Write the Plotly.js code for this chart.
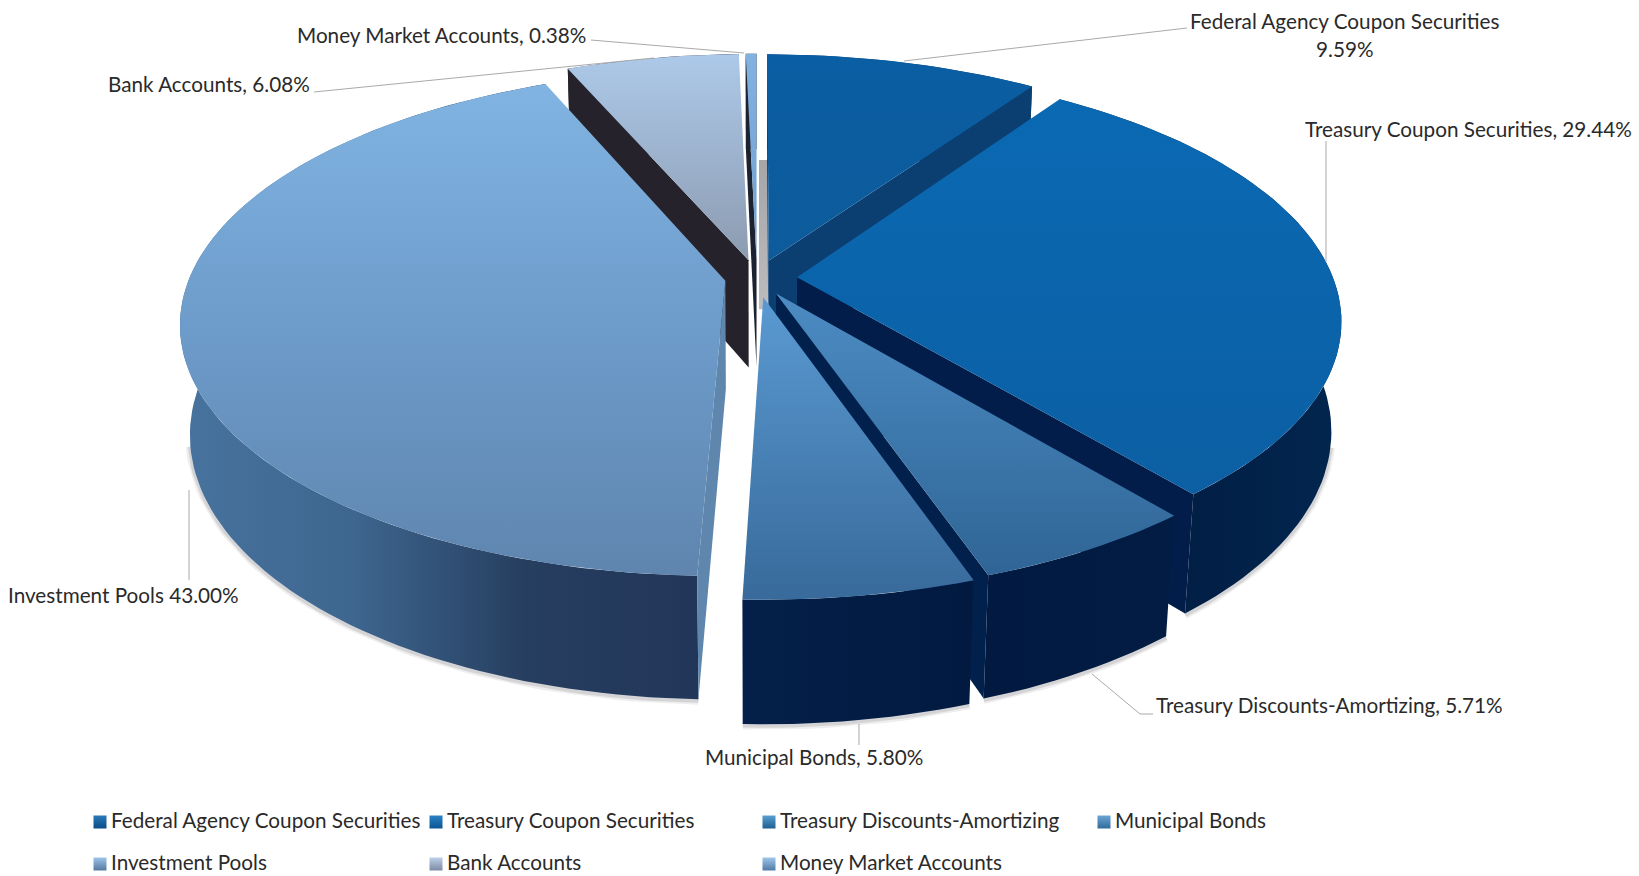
<!DOCTYPE html>
<html>
<head>
<meta charset="utf-8">
<script src="https://cdn.plot.ly/plotly-3.0.1.min.js"></script>
<style>html,body{margin:0;padding:0;background:#fff}#chart{width:1639px;height:876px}</style>
</head>
<body>
<div id="chart"></div>
<script>
// Portfolio composition, clockwise from twelve o'clock
const categories = ['Federal Agency Coupon Securities', 'Treasury Coupon Securities', 'Treasury Discounts-Amortizing',
  'Municipal Bonds', 'Investment Pools', 'Bank Accounts', 'Money Market Accounts'];
const shares = [9.59, 29.44, 5.71, 5.80, 43.00, 6.08, 0.38];

// Callout wording per slice
const calloutLines = [
  ['Federal Agency Coupon Securities', '9.59%'],
  ['Treasury Coupon Securities, 29.44%'],
  ['Treasury Discounts-Amortizing, 5.71%'],
  ['Municipal Bonds, 5.80%'],
  ['Investment Pools 43.00%'],
  ['Bank Accounts, 6.08%'],
  ['Money Market Accounts, 0.38%']
];

// Top-face shading, top of slice to bottom of slice
const faceColors = [
  ['#0a5ea3', '#0d5b9b'], ['#0a69b3', '#0c5fa3'], ['#4c8cc3', '#2f6596'], ['#5a9ad2', '#386a9b'],
  ['#81b4e2', '#6d9bca', '#5f85ae'], ['#adc9e9', '#8c9bb0'], ['#82b2e0', '#6f9fcf']
];
// Rim wall shading, left to right
const rimColors = [
  ['#0b4479', '#0b3f72'], ['#01183c', '#02264f'], ['#021a40', '#021c44'], ['#041f49', '#021a40'],
  ['#47739e', '#3e668f', '#263e5f', '#22365a'], ['#2a2a36', '#2a2a36'], ['#2a2a36', '#2a2a36']
];
// Colour of the straight cut walls
const cutColors = ['#0b3f72', '#021d49', '#02204c', '#04224e', '#5f86ad', '#25222c', '#1d2230'];
const swatchColors = [
  ['#2a7ab8', '#0a4c86'], ['#2a82c4', '#0a5494'], ['#5a9fd2', '#1f5e90'], ['#6aa5d6', '#2f6a9b'],
  ['#9cc4e8', '#55799f'], ['#bdd0e8', '#7b8ba3'], ['#a0c6ea', '#4f7aa6']
];

// Back-to-front painting sequence
const paintOrder = [6, 5, 0, 4, 1, 2, 3];
// How far each slice is pulled out from the centre
const pulls = [0.075, 0.075, 0.072, 0.078, 0.06, 0.075, 0.075];

// Perspective camera for the tilted disc
const cam = {cx: 757, cy: 278, a: 245.6, b: 536, h: 110, p: 0.165, q: 0.017};
function project(X, Y, z) {
  const d = 1 + cam.p * Y + cam.q * z;
  return [cam.cx + cam.b * X / d, cam.cy + (-cam.a * Y + cam.h * z) / d];
}

const rad = d => d * Math.PI / 180;
const traces = [];
function poly(points, colors, orient, name) {
  // The y axis runs downward, so vertical gradients are listed bottom-first
  const list = orient === 'vertical' ? colors.slice().reverse() : colors;
  const n = list.length;
  const scale = list.map((c, i) => [i / (n - 1), c]);
  traces.push({
    type: 'scatter', mode: 'lines', name,
    x: points.map(p => p[0]).concat(points[0][0]),
    y: points.map(p => p[1]).concat(points[0][1]),
    fill: 'toself', line: {width: 0}, hoverinfo: 'skip', showlegend: false,
    fillcolor: colors[0],
    fillgradient: {type: orient, colorscale: scale}
  });
}

// Slice geometry comes straight from the shares
let running = 0;
const slices = shares.map((s, i) => {
  const t1 = running * 3.6; running += s; const t2 = running * 3.6;
  const mid = rad((t1 + t2) / 2);
  return {i, t1, t2, ox: pulls[i] * Math.sin(mid), oy: pulls[i] * Math.cos(mid)};
});
function arc(sl, z) {
  const pts = [], steps = Math.max(2, Math.ceil((sl.t2 - sl.t1) / 1.5));
  for (let k = 0; k <= steps; k++) {
    const t = rad(sl.t1 + (sl.t2 - sl.t1) * k / steps);
    pts.push(project(sl.ox + Math.sin(t), sl.oy + Math.cos(t), z));
  }
  return pts;
}
function cutVisible(sl, theta, sign) {
  const n = rad(theta + sign * 90);
  return Math.sin(n) * (0 - sl.ox) + Math.cos(n) * (-1 / cam.p - sl.oy) > 0;
}
function cutWall(sl, theta, sign) {
  if (!cutVisible(sl, theta, sign)) return;
  const t = rad(theta);
  const rimX = sl.ox + Math.sin(t), rimY = sl.oy + Math.cos(t);
  poly([project(sl.ox, sl.oy, 0), project(rimX, rimY, 0), project(rimX, rimY, 1), project(sl.ox, sl.oy, 1)],
    [cutColors[sl.i], cutColors[sl.i]], 'vertical', categories[sl.i] + ' cut');
}

// Soft contact shadow under the front rim
[[9, 'rgba(90,90,100,0.10)'], [5, 'rgba(80,80,90,0.16)']].forEach(([w, col]) => {
  [slices[1], slices[2], slices[3], slices[4]].forEach(sl => {
    const pts = arc(sl, 1).filter(p => p[1] > 440);
    traces.push({type: 'scatter', mode: 'lines', x: pts.map(p => p[0]), y: pts.map(p => p[1] + 1),
      line: {width: w, color: col}, hoverinfo: 'skip', showlegend: false});
  });
});

// Grey sliver visible through the gap beside the first slice
const gapEdge = project(slices[0].ox, slices[0].oy + 0.45, 0)[0];
const gapTop = project(slices[0].ox, slices[0].oy + 0.45, 0)[1];
const gapFoot = project(slices[0].ox, slices[0].oy, 0.45)[1];
poly([[gapEdge - 9, gapTop], [gapEdge, gapTop], [gapEdge, gapFoot], [gapEdge - 9, gapFoot]],
  ['#a6a6a8', '#bcbcbe'], 'vertical', 'gap');

paintOrder.forEach(i => {
  const sl = slices[i];
  const top = arc(sl, 0), bot = arc(sl, 1);
  poly(top.concat(bot.slice().reverse()), rimColors[i], 'horizontal', categories[i] + ' rim');
  cutWall(sl, sl.t1, -1);
  cutWall(sl, sl.t2, 1);
  poly([project(sl.ox, sl.oy, 0)].concat(top), faceColors[i], 'vertical', categories[i]);
});

// Leader lines from the callouts to the disc
const leaders = [
  [[1187, 28], [904, 61]],
  [[1326, 141], [1326, 262]],
  [[1092, 674], [1140, 714], [1153, 714]],
  [[859, 724], [859, 745]],
  [[189, 490], [189, 580]],
  [[314, 92], [654, 58]],
  [[591, 40], [744, 53]]
];
leaders.forEach(pts => traces.push({type: 'scatter', mode: 'lines',
  x: pts.map(p => p[0]), y: pts.map(p => p[1]),
  line: {width: 1, color: '#a9a9a9'}, hoverinfo: 'skip', showlegend: false}));

// Legend grid
const legendCols = [100, 436, 769, 1104];
const legendRows = [822, 864];
const legendCells = [[0, 0], [1, 0], [2, 0], [3, 0], [0, 1], [1, 1], [2, 1]];
const legendFont = {family: 'Lato, Carlito, sans-serif', size: 20.7, color: '#2a2a2a'};
const annotations = [];
categories.forEach((c, i) => {
  const [col, row] = legendCells[i];
  traces.push({type: 'scatter', mode: 'markers', x: [legendCols[col]], y: [legendRows[row]], name: c,
    marker: {symbol: 'square', size: 13, color: swatchColors[i][0],
      gradient: {type: 'vertical', color: swatchColors[i][1]}},
    hoverinfo: 'name', showlegend: false});
  annotations.push({x: legendCols[col] + 9, y: legendRows[row] - 2, text: c, xanchor: 'left', yanchor: 'middle',
    showarrow: false, font: legendFont, xref: 'x', yref: 'y'});
});

// Callouts, one row per text line
const calloutSpots = [
  {x: 1344, y: 21, a: 'center'}, {x: 1303, y: 129, a: 'left'}, {x: 1154, y: 705, a: 'left'},
  {x: 703, y: 757, a: 'left'}, {x: 6, y: 595, a: 'left'}, {x: 106, y: 84, a: 'left'}, {x: 295, y: 35, a: 'left'}
];
calloutLines.forEach((lines, i) => {
  lines.forEach((t, k) => annotations.push({x: calloutSpots[i].x, y: calloutSpots[i].y + k * 28, text: t,
    xanchor: calloutSpots[i].a, yanchor: 'middle', showarrow: false, font: legendFont, xref: 'x', yref: 'y'}));
});

const hidden = {visible: false, fixedrange: true};
Plotly.newPlot('chart', traces, {
  width: 1639, height: 876,
  margin: {l: 0, r: 0, t: 0, b: 0},
  paper_bgcolor: '#ffffff', plot_bgcolor: '#ffffff',
  xaxis: Object.assign({range: [0, 1639]}, hidden),
  yaxis: Object.assign({range: [876, 0]}, hidden),
  annotations, showlegend: false
}, {displayModeBar: false});
</script>
</body>
</html>
